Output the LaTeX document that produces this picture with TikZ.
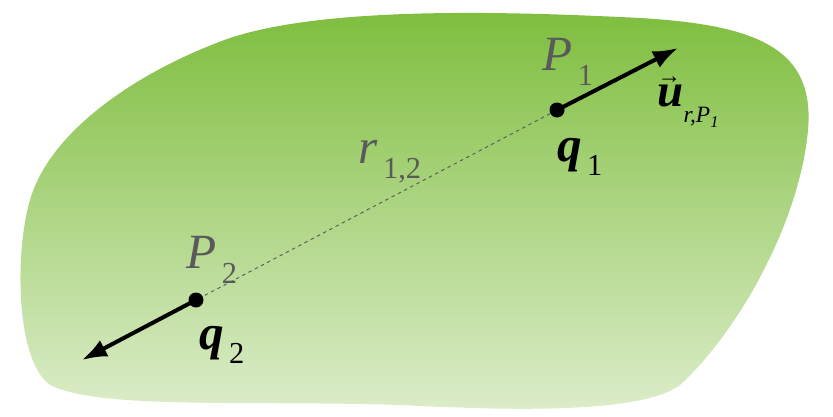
\documentclass[tikz,border=0pt]{standalone}
\usepackage{fontspec}
\setmainfont{Liberation Serif}
\usetikzlibrary{arrows.meta}
\definecolor{gtop}{HTML}{7DBD3C}
\definecolor{gbot}{HTML}{DDEDCB}
\definecolor{lab}{HTML}{5A5A5A}
\newcommand{\sbx}[1]{\raisebox{-0.3em}{\fontsize{26}{26}\selectfont\upshape\mdseries\,#1}}
\begin{document}
\begin{tikzpicture}[x=0.03cm,y=-0.03cm,
  dot/.style={circle,fill=black,inner sep=0pt,minimum size=0.45cm},
  glab/.style={text=lab,font=\itshape\fontsize{42}{42}\selectfont},
  blab/.style={text=black,font=\bfseries\itshape\fontsize{42}{42}\selectfont}]
\useasboundingbox (0,0) rectangle (833,417);
\shade[top color=gtop,bottom color=gbot]
  (230,38) .. controls (330,5) and (520,12) .. (640,18)
  .. controls (760,25) and (815,50) .. (808,130)
  .. controls (800,220) and (740,330) .. (680,385)
  .. controls (640,415) and (500,410) .. (400,405)
  .. controls (250,400) and (100,410) .. (50,385)
  .. controls (15,360) and (15,250) .. (30,200)
  .. controls (50,130) and (140,70) .. (230,38) -- cycle;
\node[dot] (p1) at (557,110) {};
\node[dot] (p2) at (196,300) {};
\coordinate (a1) at (678,48);
\coordinate (a2) at (82,360);
\draw[dashed,lab,line width=0.8pt] (p1) -- (p2);
\draw[line width=1.2mm,-{Latex[length=0.75cm,width=0.55cm]}] (p1.center) -- (a1);
\draw[line width=1.2mm,-{Latex[length=0.75cm,width=0.55cm]}] (p2.center) -- (a2);
\node[glab] (lp1) at (568,62) {P\sbx{1}};
\node[glab] (lp2) at (212,260) {P\sbx{2}};
\node[blab] (lq1) at (580,157) {q\sbx{1}};
\node[blab] (lq2) at (222,345) {q\sbx{2}};
\node[glab] (lr) at (390,162) {r\sbx{1,2}};
\node[text=black,font=\bfseries\itshape\fontsize{40}{40}\selectfont] (lu) at (688,102)
  {\rlap{\raisebox{0.5em}{\fontsize{20}{20}\selectfont\mdseries\upshape →}}u\raisebox{-0.35em}{\fontsize{20}{20}\selectfont\mdseries r,P\raisebox{-0.2em}{\fontsize{14}{14}\selectfont 1}}};
\end{tikzpicture}
\end{document}
